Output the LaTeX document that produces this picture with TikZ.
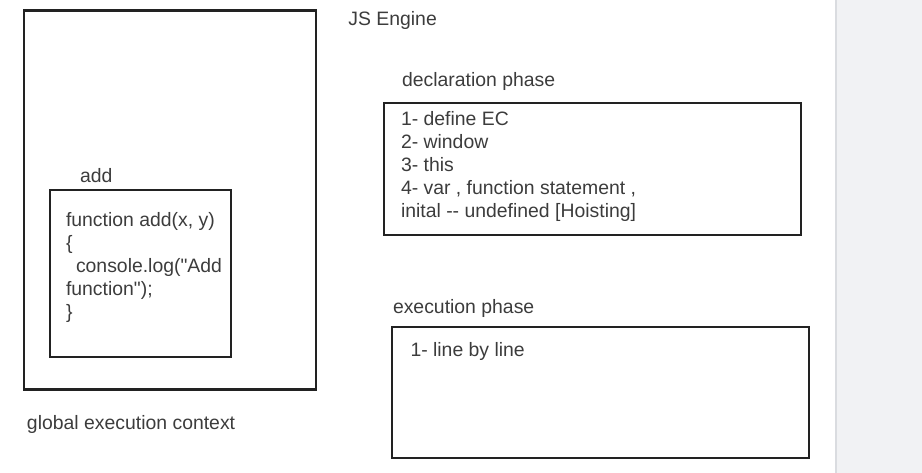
\documentclass[tikz,border=0pt]{standalone}
\usepackage{fontspec}
\setmainfont{Liberation Sans}
\usepackage{xcolor}
\usepackage{tikz}
\definecolor{ink}{HTML}{3C3C3C}
\definecolor{edge}{HTML}{222222}
\definecolor{sidebar}{HTML}{F1F2F4}
\definecolor{sideline}{HTML}{DADCE0}

\begin{document}
\begin{tikzpicture}[x=1pt, y=-1pt, box/.style={rectangle, draw=edge, line width=2.4pt, inner sep=0pt}, lbl/.style={text=ink, inner sep=0pt, anchor=base west, align=left, font=\fontsize{19.4}{23}\selectfont}]
\useasboundingbox (0,0) rectangle (922,473);
\fill[sidebar] (835,0) rectangle (922,473);
\draw[sideline, line width=2pt] (836,0) -- (836,473);

\node[box, minimum width=292pt, minimum height=379pt] (gec) at (170,200) {};
\node[box, minimum width=181pt, minimum height=167pt] (addfn) at (140.5,273.5) {};
\node[box, minimum width=417pt, minimum height=132pt] (decl) at (592.5,169) {};
\node[box, minimum width=417pt, minimum height=131pt] (exec) at (600.5,392.5) {};

% base of a text block = baseline of its last line
\node[lbl] (engine) at ([xshift=31pt, yshift=-16pt]gec.north east) {JS Engine};
\node[lbl] (geclabel) at ([xshift=4pt, yshift=-39pt]gec.south west) {global execution context};
\node[lbl] (addlabel) at ([xshift=31pt, yshift=6pt]addfn.north west) {add};
\node[lbl] (addcode) at ([xshift=17pt, yshift=-130pt]addfn.north west) {function add(x, y)\\\{\\\hspace*{10pt}console.log(\textquotedbl Add\\function\textquotedbl);\\\}};
\node[lbl] (decllabel) at ([xshift=19pt, yshift=15pt]decl.north west) {declaration phase};
\node[lbl] (declsteps) at ([xshift=18pt, yshift=-116pt]decl.north west) {1- define EC\\2- window\\3- this\\4- var , function statement ,\\inital -{}- undefined [Hoisting]};
\node[lbl] (execlabel) at ([xshift=2pt, yshift=12pt]exec.north west) {execution phase};
\node[lbl] (execsteps) at ([xshift=19.5pt, yshift=-31pt]exec.north west) {1- line by line};
\end{tikzpicture}
\end{document}
